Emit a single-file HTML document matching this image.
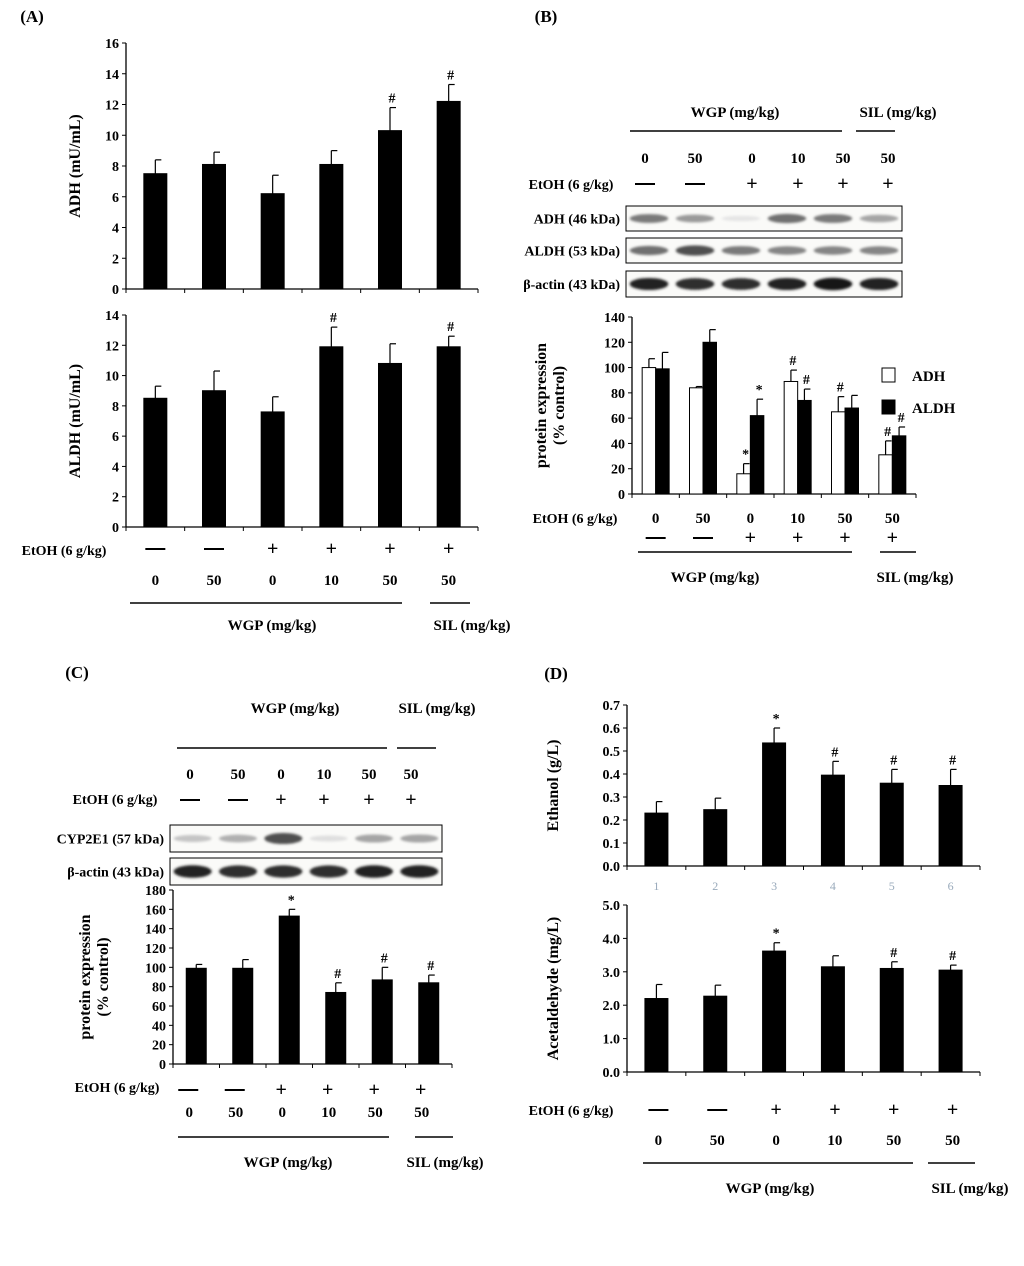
<!DOCTYPE html>
<html><head><meta charset="utf-8"><style>
body{margin:0;background:#fff}
svg text{font-family:"Liberation Serif",serif;font-weight:bold;fill:#000}
</style></head><body>
<svg id="fig" width="1024" height="1261" viewBox="0 0 1024 1261" xmlns="http://www.w3.org/2000/svg">
<defs><filter id="blur" x="-20%" y="-100%" width="140%" height="300%"><feGaussianBlur stdDeviation="1.2"/></filter></defs>
</svg>
<script>
const ADH_A = [7.5, 8.1, 6.2, 8.1, 10.3, 12.2];
const ADH_A_ERR = [8.4, 8.9, 7.4, 9.0, 11.8, 13.3];
const ALDH_A = [8.5, 9.0, 7.6, 11.9, 10.8, 11.9];
const ALDH_A_ERR = [9.3, 10.3, 8.6, 13.2, 12.1, 12.6];
const ADH_B = [100, 84, 16, 89, 65, 31];
const ADH_B_ERR = [107, 85, 24, 98, 77, 42];
const ALDH_B = [99, 120, 62, 74, 68, 46];
const ALDH_B_ERR = [112, 130, 75, 83, 78, 53];
const CYP_C = [99, 99, 153, 74, 87, 84];
const CYP_C_ERR = [103, 108, 160, 84, 100, 92];
const ETH_D = [0.23, 0.245, 0.535, 0.395, 0.36, 0.35];
const ETH_D_ERR = [0.28, 0.295, 0.6, 0.455, 0.42, 0.42];
const ACE_D = [2.2, 2.27, 3.62, 3.15, 3.1, 3.05];
const ACE_D_ERR = [2.62, 2.6, 3.87, 3.48, 3.3, 3.2];
const doses = ['0','50','0','10','50','50'];
const etoh = ['—','—','+','+','+','+'];

const svg = document.getElementById('fig');
const NS = 'http://www.w3.org/2000/svg';
function el(tag, attrs, parent){const e=document.createElementNS(NS,tag);for(const k in attrs)e.setAttribute(k,attrs[k]);(parent||svg).appendChild(e);return e;}
function txt(x,y,s,size,anchor,parent,rot){const t=el('text',{x:x,y:y,'font-size':size,'text-anchor':anchor||'middle'},parent);if(rot)t.setAttribute('transform','rotate(-90 '+x+' '+y+')');t.textContent=s;return t;}

function chart(name,o){
  const g=el('g',{});
  
  
  const ys=v=>o.yb-(v/o.max)*(o.yb-o.yt);
  const cw=(o.x1-o.x0)/6;
  const xs=i=>o.x0+cw*(i+0.5);
  el('line',{x1:o.x0,y1:o.yt,x2:o.x0,y2:o.yb,stroke:'#000','stroke-width':1.3},g);
  el('line',{x1:o.x0,y1:o.yb,x2:o.x1,y2:o.yb,stroke:'#000','stroke-width':1.3},g);
  for(let v=0;v<=o.max+1e-9;v+=o.step){
    const y=ys(v);
    el('line',{x1:o.x0-4,y1:y,x2:o.x0,y2:y,stroke:'#000'},g);
    txt(o.x0-7,y+5,v.toFixed(o.dec),14,'end',g);
  }
  for(let i=0;i<=6;i++) el('line',{x1:o.x0+cw*i,y1:o.yb,x2:o.x0+cw*i,y2:o.yb+4,stroke:'#000'},g);
  o.series.forEach((s,si)=>{
    s.vals.forEach((v,i)=>{
      const cx=xs(i)+(o.series.length>1?(si-0.5)*o.bw:0);
      const bx=cx-o.bw/2;
      const r=el('rect',{x:bx,y:ys(v),width:o.bw,height:ys(0)-ys(v),fill:s.fill,stroke:'#000','stroke-width':1},g);
      
      
      el('line',{x1:cx,y1:ys(v),x2:cx,y2:ys(s.err[i]),stroke:'#000','stroke-width':1.2},g);
      el('line',{x1:cx,y1:ys(s.err[i]),x2:cx+6,y2:ys(s.err[i]),stroke:'#000','stroke-width':1.2},g);
      if(s.marks&&s.marks[i]){txt(cx+2,ys(s.err[i])-5,s.marks[i],14,'middle',g);}
    });
  });
  if(o.title) o.title.forEach((t,k)=>txt(o.tx+k*18,(o.yb+o.yt)/2,t,16,'middle',g,true));
  return xs;
}
function rowLabels(name,xs,y,arr,size){const g=el('g',{});xs.forEach((x,i)=>txt(x,y,arr[i],size||15,'middle',g));}
function hl(x1,x2,y){el('line',{x1:x1,y1:y,x2:x2,y2:y,stroke:'#000','stroke-width':1.5});}
function dashRow(xs,y){xs.forEach((x,i)=>{if(etoh[i]==='+'){txt(x,y+6,'+',20,'middle');}else{el('line',{x1:x-10,y1:y,x2:x+10,y2:y,stroke:'#000','stroke-width':2});}});}
function blot(x,y,w,h,label,dens){
  const g=el('g',{});
  el('rect',{x:x,y:y,width:w,height:h,fill:'#fafaf8',stroke:'#000','stroke-width':1},g);
  const lw=w/6;
  dens.forEach((d,i)=>{const c=Math.round(240-215*d);el('ellipse',{cx:x+lw*(i+0.5),cy:y+h/2,rx:lw*0.42,ry:h*0.1+d*h*0.14,fill:'rgb('+c+','+c+','+c+')',filter:'url(#blur)'},g);});
  txt(x-6,y+h/2+5,label,14,'end');
}

// Panel A
txt(32,22,'(A)',17);
const xsA=chart('adh-chart-a',{x0:126,x1:478,yb:289,yt:43,max:16,step:2,dec:0,bw:23,tx:80,title:['ADH (mU/mL)'],
 series:[{name:'adh',vals:ADH_A,err:ADH_A_ERR,fill:'#000',marks:['','','','','#','#']}]});
chart('aldh-chart-a',{x0:126,x1:478,yb:527,yt:315,max:14,step:2,dec:0,bw:23,tx:80,title:['ALDH (mU/mL)'],
 series:[{name:'aldh',vals:ALDH_A,err:ALDH_A_ERR,fill:'#000',marks:['','','','#','','#']}]});
const xsAs=[0,1,2,3,4,5].map(i=>xsA(i));
txt(64,555,'EtOH (6 g/kg)',14);dashRow(xsAs,549);
rowLabels('dose-row-a',xsAs,585,doses);
hl(130,402,603);hl(430,470,603);
txt(272,630,'WGP (mg/kg)',15);txt(472,630,'SIL  (mg/kg)',15);

// Panel B
txt(546,22,'(B)',17);
txt(735,117,'WGP  (mg/kg)',15);txt(898,117,'SIL (mg/kg)',15);
hl(630,842,131);hl(856,895,131);
const xsBtop=[645,695,752,798,843,888];
rowLabels('dose-row-b-top',xsBtop,163,doses);
txt(571,189,'EtOH (6 g/kg)',14);dashRow(xsBtop,184);
blot(626,206,276,25,'ADH (46 kDa)',[0.55,0.4,0.05,0.6,0.55,0.35]);
blot(626,238,276,25,'ALDH (53 kDa)',[0.6,0.75,0.55,0.5,0.5,0.5]);
blot(626,271,276,26,'β-actin (43 kDa)',[0.95,0.9,0.9,0.95,1,0.95]);
const xsB=chart('protein-chart-b',{x0:632,x1:916,yb:494,yt:317,max:140,step:20,dec:0,bw:13.5,tx:546,title:['protein expression','(% control)'],
 series:[{name:'adh',vals:ADH_B,err:ADH_B_ERR,fill:'#fff',marks:['','','*','#','#','#']},
         {name:'aldh',vals:ALDH_B,err:ALDH_B_ERR,fill:'#000',marks:['','','*','#','','#']}]});
const lg=el('g',{});
el('rect',{x:882,y:368,width:13,height:14,fill:'#fff',stroke:'#000'},lg);txt(912,381,'ADH',15,'start',lg);
el('rect',{x:882,y:400,width:13,height:14,fill:'#000',stroke:'#000'},lg);txt(912,413,'ALDH',15,'start',lg);
const xsBb=[0,1,2,3,4,5].map(i=>xsB(i));
txt(575,523,'EtOH (6 g/kg)',14);rowLabels('dose-row-b',xsBb,523,doses);dashRow(xsBb,538);
hl(638,852,552);hl(880,916,552);
txt(715,582,'WGP (mg/kg)',15);txt(915,582,'SIL  (mg/kg)',15);

// Panel C
txt(77,678,'(C)',17);
txt(295,713,'WGP (mg/kg)',15);txt(437,713,'SIL (mg/kg)',15);
hl(177,387,748);hl(397,436,748);
const xsCt=[190,238,281,324,369,411];
rowLabels('dose-row-c-top',xsCt,779,doses);
txt(115,804,'EtOH (6 g/kg)',14);dashRow(xsCt,800);
blot(170,825,272,27,'CYP2E1 (57 kDa)',[0.2,0.3,0.75,0.08,0.35,0.35]);
blot(170,858,272,27,'β-actin (43 kDa)',[0.95,0.9,0.9,0.9,0.95,0.95]);
const xsC=chart('cyp2e1-chart-c',{x0:173,x1:452,yb:1064,yt:890,max:180,step:20,dec:0,bw:20,tx:90,title:['protein expression','(% control)'],
 series:[{name:'cyp2e1',vals:CYP_C,err:CYP_C_ERR,fill:'#000',marks:['','','*','#','#','#']}]});
const xsCb=[0,1,2,3,4,5].map(i=>xsC(i));
txt(117,1092,'EtOH (6 g/kg)',14);dashRow(xsCb.map(x=>x-8),1090);
rowLabels('dose-row-c',xsCb.map(x=>x-7),1117,doses);
hl(178,389,1137);hl(415,453,1137);
txt(288,1167,'WGP (mg/kg)',15);txt(445,1167,'SIL (mg/kg)',15);

// Panel D
txt(556,679,'(D)',17);
const xsD=chart('ethanol-chart-d',{x0:627,x1:980,yb:866,yt:705,max:0.7,step:0.1,dec:1,bw:23,tx:558,title:['Ethanol (g/L)'],
 series:[{name:'ethanol',vals:ETH_D,err:ETH_D_ERR,fill:'#000',marks:['','','*','#','#','#']}]});
const gn=el('g',{});
[0,1,2,3,4,5].forEach(i=>{const t=txt(xsD(i),890,String(i+1),12,'middle',gn);t.setAttribute('style','fill:#9ab;font-weight:normal');});
chart('acetaldehyde-chart-d',{x0:627,x1:980,yb:1072,yt:905,max:5,step:1,dec:1,bw:23,tx:558,title:['Acetaldehyde (mg/L)'],
 series:[{name:'acetaldehyde',vals:ACE_D,err:ACE_D_ERR,fill:'#000',marks:['','','*','','#','#']}]});
const xsDb=[0,1,2,3,4,5].map(i=>xsD(i)+2);
txt(571,1115,'EtOH (6 g/kg)',14);dashRow(xsDb,1110);
rowLabels('dose-row-d',xsDb,1145,doses);
hl(643,913,1163);hl(928,975,1163);
txt(770,1193,'WGP (mg/kg)',15);txt(970,1193,'SIL (mg/kg)',15);
</script>
</body></html>
